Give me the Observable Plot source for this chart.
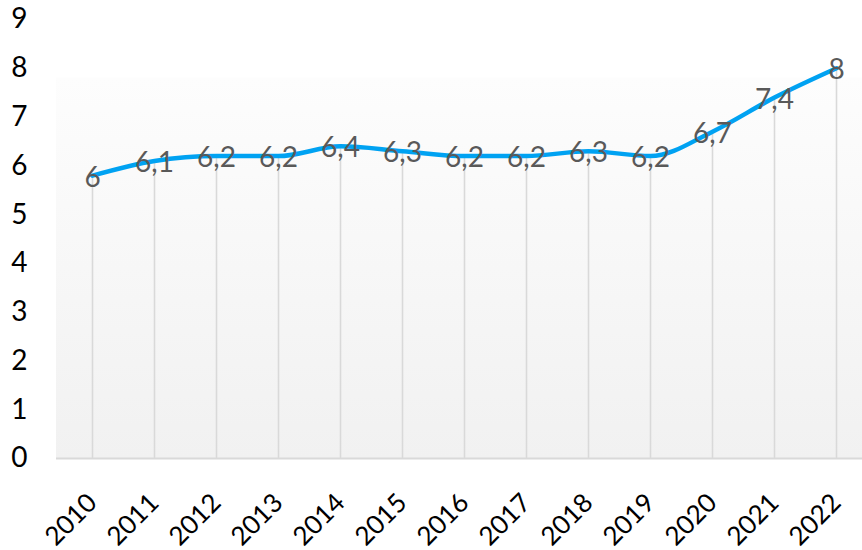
<!DOCTYPE html>
<html>
<head>
<meta charset="utf-8">
<script src="https://cdn.jsdelivr.net/npm/d3@7"></script>
<script src="https://cdn.jsdelivr.net/npm/@observablehq/plot@0.6"></script>
<style>
  html, body { margin: 0; padding: 0; background: #fff; overflow: hidden; }
</style>
</head>
<body>
<div id="chart"></div>
<script>
const years = [2010, 2011, 2012, 2013, 2014, 2015, 2016, 2017, 2018, 2019, 2020, 2021, 2022];
const values = [5.8, 6.1, 6.2, 6.2, 6.4, 6.3, 6.2, 6.2, 6.3, 6.2, 6.7, 7.4, 8.0];
const labels = ["6", "6,1", "6,2", "6,2", "6,4", "6,3", "6,2", "6,2", "6,3", "6,2", "6,7", "7,4", "8"];
const yTicks = [0, 1, 2, 3, 4, 5, 6, 7, 8, 9];

const data = years.map((year, i) => ({year, value: values[i], label: labels[i]}));

const chart = Plot.plot({
  width: 862,
  height: 550,
  marginLeft: 56,
  marginRight: -9,
  marginTop: 19,
  marginBottom: 92,
  style: {fontFamily: "Lato, 'Open Sans', sans-serif", fontSize: "27px", color: "#000", background: "#fff", overflow: "visible"},
  x: {type: "point", domain: years, padding: 0.5, label: null},
  y: {domain: [0, 9], label: null},
  marks: [
    Plot.rect([0], {y1: 0, y2: 7.8, fill: "url(#plotbg)"}),
    Plot.ruleX(data, {x: "year", y1: 0, y2: "value", stroke: "#d9d9d9", strokeWidth: 1.6}),
    Plot.ruleY([0], {stroke: "#d9d9d9", strokeWidth: 2}),
    Plot.line(data, {x: "year", y: "value", stroke: "#00a2f2", strokeWidth: 4.5, curve: "monotone-x"}),
    Plot.text(data, {x: "year", y: "value", text: "label", fill: "#595959", fontSize: 28, dy: 2}),
    Plot.axisY(yTicks, {tickSize: 0, tickPadding: 29, fontSize: 28, fill: "#000", label: null}),
    Plot.axisX(years, {tickSize: 0, tickPadding: 40, tickRotate: -45, fontSize: 26, fill: "#000", label: null, tickFormat: d => String(d)})
  ]
});

const svg = chart.tagName.toLowerCase() === "svg" ? chart : chart.querySelector("svg");
const ns = "http://www.w3.org/2000/svg";
const defs = document.createElementNS(ns, "defs");
const grad = document.createElementNS(ns, "linearGradient");
grad.setAttribute("id", "plotbg");
grad.setAttribute("x1", "0"); grad.setAttribute("y1", "0");
grad.setAttribute("x2", "0"); grad.setAttribute("y2", "1");
[["0", "#fdfdfd"], ["1", "#f1f1f1"]].forEach(([o, c]) => {
  const s = document.createElementNS(ns, "stop");
  s.setAttribute("offset", o); s.setAttribute("stop-color", c);
  grad.appendChild(s);
});
defs.appendChild(grad);
svg.insertBefore(defs, svg.firstChild);
document.getElementById("chart").appendChild(chart);
</script>
</body>
</html>
